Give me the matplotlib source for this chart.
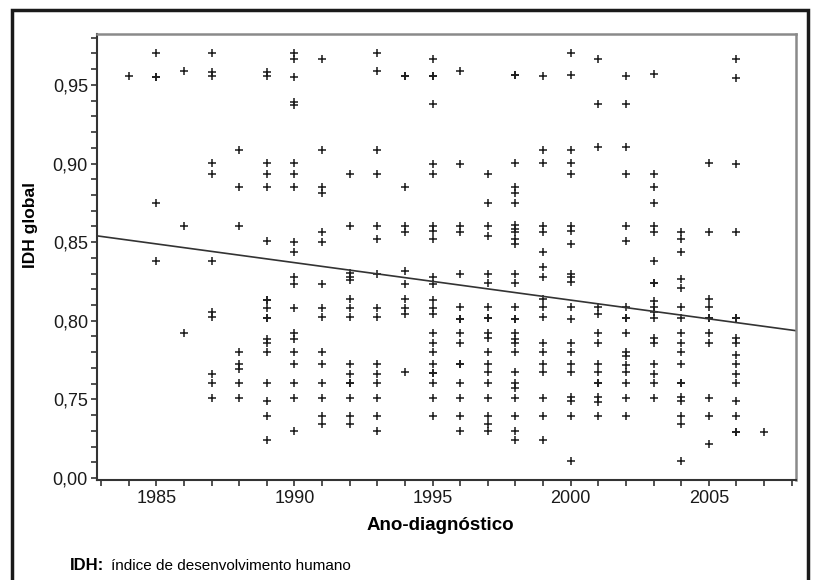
import numpy as np
import matplotlib
matplotlib.use("Agg")
import matplotlib.pyplot as plt
from matplotlib.patches import Rectangle

plt.rcParams['font.family'] = ['Liberation Sans', 'DejaVu Sans']

# IDH global por ano de diagnóstico
anos = list(range(1984, 2008))
idh_valores = [
    [0.9557],
    [0.970, 0.9553, 0.9553, 0.8751, 0.8378],
    [0.9587, 0.8602, 0.7925],
    [0.970, 0.9585, 0.9557, 0.9004, 0.8934, 0.8378, 0.8053, 0.8025, 0.7663, 0.7601, 0.7510],
    [0.9085, 0.8853, 0.8602, 0.7801, 0.7727, 0.7695, 0.7601, 0.7510],
    [0.9585, 0.9557, 0.9004, 0.8934, 0.8853, 0.8510, 0.8134, 0.8134, 0.8084, 0.8020, 0.8020,
     0.7886, 0.7861, 0.7801, 0.7601, 0.7489, 0.7397, 0.7239],
    [0.970, 0.9664, 0.9553, 0.9393, 0.9372, 0.9004, 0.8934, 0.8853, 0.8500, 0.8440, 0.8276,
     0.8234, 0.8084, 0.7925, 0.7883, 0.7801, 0.7723, 0.7601, 0.7510, 0.7297],
    [0.9666, 0.9085, 0.8853, 0.8813, 0.8564, 0.8500, 0.8234, 0.8084, 0.8025, 0.7801, 0.7723,
     0.7601, 0.7510, 0.7397, 0.7346],
    [0.8934, 0.8602, 0.8302, 0.8276, 0.8259, 0.8138, 0.8084, 0.8025, 0.7723, 0.7663, 0.7601,
     0.7601, 0.7510, 0.7397, 0.7346],
    [0.970, 0.9589, 0.9085, 0.8934, 0.8602, 0.8521, 0.8298, 0.8084, 0.8025, 0.7723, 0.7663,
     0.7601, 0.7510, 0.7397, 0.7297],
    [0.9557, 0.9557, 0.8853, 0.8602, 0.8564, 0.8319, 0.8234, 0.8138, 0.8084, 0.8046, 0.7674],
    [0.9666, 0.9557, 0.9557, 0.9379, 0.8996, 0.8934, 0.8602, 0.8574, 0.8521, 0.8276, 0.8234,
     0.8134, 0.8084, 0.8046, 0.7925, 0.7861, 0.7801, 0.7723, 0.7669, 0.7669, 0.7601, 0.7510, 0.7397],
    [0.9587, 0.8996, 0.8602, 0.8564, 0.8298, 0.8089, 0.8014, 0.8014, 0.7925, 0.7861, 0.7723,
     0.7723, 0.7601, 0.7510, 0.7397, 0.7297],
    [0.8934, 0.8751, 0.8602, 0.8542, 0.8298, 0.8238, 0.8089, 0.8020, 0.8020, 0.7925, 0.7893,
     0.7801, 0.7723, 0.7674, 0.7601, 0.7510, 0.7397, 0.7346, 0.7297],
    [0.9560, 0.9560, 0.9006, 0.8853, 0.8813, 0.8751, 0.8606, 0.8585, 0.8564, 0.8521, 0.8489,
     0.8298, 0.8238, 0.8089, 0.8014, 0.8014, 0.7925, 0.7883, 0.7861, 0.7801, 0.7674, 0.7605,
     0.7574, 0.7510, 0.7397, 0.7297, 0.7239],
    [0.9557, 0.9083, 0.9006, 0.8602, 0.8564, 0.8440, 0.8340, 0.8276, 0.8138, 0.8089, 0.8025,
     0.7861, 0.7801, 0.7723, 0.7674, 0.7510, 0.7397, 0.7239],
    [0.970, 0.9566, 0.9083, 0.9006, 0.8934, 0.8602, 0.8574, 0.8489, 0.8298, 0.8276, 0.8244,
     0.8089, 0.8014, 0.7861, 0.7801, 0.7723, 0.7674, 0.7517, 0.7489, 0.7397, 0.7110],
    [0.9666, 0.9379, 0.9104, 0.8089, 0.8046, 0.7925, 0.7861, 0.7723, 0.7674, 0.7601, 0.7601,
     0.7517, 0.7482, 0.7397],
    [0.9557, 0.9379, 0.9104, 0.8934, 0.8602, 0.8510, 0.8089, 0.8017, 0.8017, 0.7925, 0.7801,
     0.7776, 0.7717, 0.7674, 0.7601, 0.7510, 0.7397],
    [0.9568, 0.8934, 0.8853, 0.8751, 0.8602, 0.8564, 0.8378, 0.8240, 0.8240, 0.8127, 0.8089,
     0.8053, 0.8020, 0.7893, 0.7861, 0.7723, 0.7663, 0.7601, 0.7510],
    [0.8564, 0.8521, 0.8440, 0.8266, 0.8206, 0.8089, 0.8017, 0.7925, 0.7861, 0.7801, 0.7723,
     0.7601, 0.7601, 0.7514, 0.7489, 0.7397, 0.7346, 0.7105],
    [0.9006, 0.8564, 0.8138, 0.8089, 0.8017, 0.8017, 0.7925, 0.7861, 0.7510, 0.7397, 0.7217],
    [0.9666, 0.9547, 0.8996, 0.8564, 0.8020, 0.8020, 0.7893, 0.7861, 0.7782, 0.7723, 0.7663,
     0.7601, 0.7489, 0.7397, 0.7293, 0.7293],
    [0.7293],
]

# Reta de regressão (extremos)
reta_anos = [1982.85, 2008.15]
reta_idh = [0.8540, 0.7937]

# Eixos
y_major = [0.70, 0.75, 0.80, 0.85, 0.90, 0.95]
y_labels = ["0,00", "0,75", "0,80", "0,85", "0,90", "0,95"]
x_major = [1985, 1990, 1995, 2000, 2005]

x = np.concatenate([[a] * len(v) for a, v in zip(anos, idh_valores)])
y = np.concatenate(idh_valores)

fig = plt.figure(figsize=(8.17, 5.80), dpi=100)
ax = fig.add_axes([0.1187, 0.1724, 0.8553, 0.769])

ax.plot(x, y, linestyle="none", marker="+", markersize=5.5, markeredgewidth=1.1, color="#1a1a1a")
ax.plot(reta_anos, reta_idh, color="#333333", linewidth=1.2)

ax.set_xlim(1982.85, 2008.15)
ax.set_ylim(0.6987, 0.9824)

ax.set_xticks(x_major)
ax.set_xticks(np.arange(1983, 2009), minor=True)
ax.set_yticks(y_major)
ax.set_yticklabels(y_labels)
ax.set_yticks(np.arange(0.70, 0.985, 0.01), minor=True)

ax.tick_params(axis="both", which="both", direction="out", length=4.5, width=1.2,
               color="#333333", labelsize=13, labelcolor="#1a1a1a")
ax.tick_params(axis="x", pad=3)
ax.tick_params(axis="y", pad=2)

for s in ["left", "bottom"]:
    ax.spines[s].set_color("#333333")
    ax.spines[s].set_linewidth(1.5)
for s in ["top", "right"]:
    ax.spines[s].set_color("#8a8a8a")
    ax.spines[s].set_linewidth(1.8)

ax.set_xlabel("Ano-diagnóstico", fontsize=13.5, fontweight="bold")
ax.set_ylabel("IDH global", fontsize=12.5, fontweight="bold")
ax.yaxis.set_label_coords(-0.084, 0.572)
ax.xaxis.set_label_coords(0.492, -0.083)

# Nota de rodapé
fig.text(70 / 817, 1 - 566 / 580, "IDH:", fontsize=12, fontweight="bold", va="center")
fig.text(111 / 817, 1 - 566 / 580, "índice de desenvolvimento humano", fontsize=11, va="center")

# Moldura externa
fig.patches.append(Rectangle((12 / 817, -0.02), (808 - 12) / 817, 1 - 10 / 580 + 0.02,
                             transform=fig.transFigure, fill=False,
                             edgecolor="#1a1a1a", linewidth=2.5))

fig.savefig("out.png", dpi=100)
